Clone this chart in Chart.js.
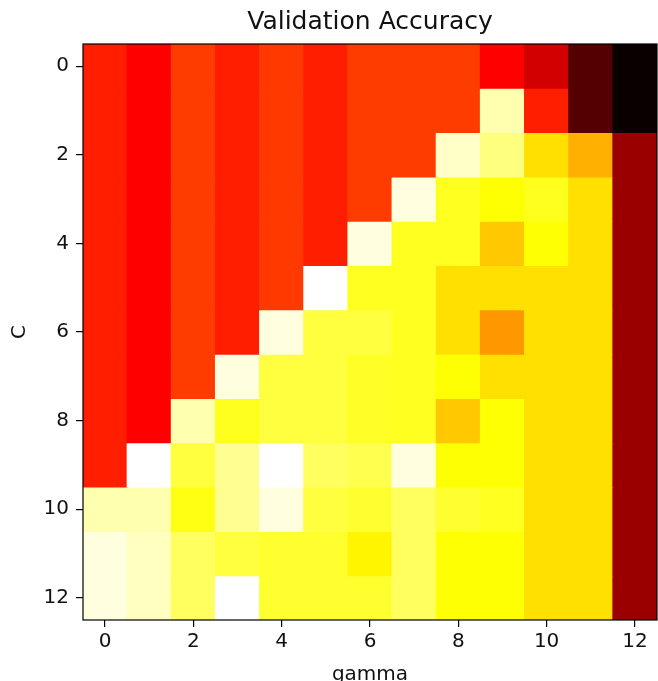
<!DOCTYPE html>
<html>
<head>
<meta charset="utf-8">
<script src="https://cdn.jsdelivr.net/npm/chart.js@4.4.1/dist/chart.umd.min.js"></script>
<style>
  html, body { margin: 0; padding: 0; background: #fff; }
  #wrap { width: 658px; height: 681px; }
</style>
</head>
<body>
<div id="wrap"><canvas id="heatmap" width="658" height="681"></canvas></div>
<script>
const gammaIdx = [0, 1, 2, 3, 4, 5, 6, 7, 8, 9, 10, 11, 12];
const cIdx = [0, 1, 2, 3, 4, 5, 6, 7, 8, 9, 10, 11, 12];
const xTicks = [0, 2, 4, 6, 8, 10, 12];
const yTicks = [0, 2, 4, 6, 8, 10, 12];

// validation accuracy, one row per C, one column per gamma (colormap scale 0..1)
const scores = [
    [0.41, 0.365, 0.455, 0.41, 0.45, 0.41, 0.455, 0.455, 0.455, 0.365, 0.30, 0.11, 0.0],
    [0.41, 0.365, 0.455, 0.41, 0.45, 0.41, 0.455, 0.455, 0.455, 0.92, 0.41, 0.11, 0.0],
    [0.41, 0.365, 0.455, 0.41, 0.45, 0.41, 0.455, 0.455, 0.944, 0.873, 0.70, 0.628, 0.214],
    [0.41, 0.365, 0.455, 0.41, 0.45, 0.41, 0.455, 0.969, 0.778, 0.75, 0.775, 0.70, 0.214],
    [0.41, 0.365, 0.455, 0.41, 0.45, 0.41, 0.969, 0.778, 0.778, 0.664, 0.75, 0.70, 0.214],
    [0.41, 0.365, 0.455, 0.41, 0.45, 1.0, 0.778, 0.778, 0.70, 0.70, 0.70, 0.70, 0.214],
    [0.41, 0.365, 0.455, 0.41, 0.969, 0.81, 0.81, 0.778, 0.70, 0.592, 0.70, 0.70, 0.214],
    [0.41, 0.365, 0.455, 0.969, 0.81, 0.81, 0.785, 0.778, 0.75, 0.70, 0.70, 0.70, 0.214],
    [0.41, 0.365, 0.921, 0.775, 0.81, 0.81, 0.785, 0.778, 0.664, 0.75, 0.70, 0.70, 0.214],
    [0.41, 1.0, 0.81, 0.89, 1.0, 0.842, 0.825, 0.969, 0.75, 0.75, 0.70, 0.70, 0.214],
    [0.921, 0.921, 0.765, 0.89, 0.969, 0.81, 0.794, 0.842, 0.794, 0.778, 0.70, 0.70, 0.214],
    [0.969, 0.937, 0.842, 0.81, 0.794, 0.794, 0.731, 0.842, 0.75, 0.75, 0.70, 0.70, 0.214],
    [0.969, 0.937, 0.842, 1.0, 0.794, 0.794, 0.794, 0.842, 0.75, 0.75, 0.70, 0.70, 0.214]
];

// matplotlib 'hot' colormap
function hot(v) {
    const clamp = t => Math.max(0, Math.min(1, t));
    const r = clamp(0.0416 + 0.9584 * v / 0.365079);
    const g = clamp((v - 0.365079) / (0.746032 - 0.365079));
    const b = clamp((v - 0.746032) / (1 - 0.746032));
    return 'rgb(' + Math.round(r * 255) + ',' + Math.round(g * 255) + ',' + Math.round(b * 255) + ')';
}

const font = { family: 'DejaVu Sans', size: 20 };

// centre the title over the plot and draw the frame round it
const frame = {
    id: 'frame',
    afterLayout(chart) {
        chart.titleBlock.left = chart.chartArea.left;
        chart.titleBlock.right = chart.chartArea.right;
    },
    afterDraw(chart) {
        const { ctx, chartArea: a } = chart;
        ctx.save();
        ctx.strokeStyle = '#000';
        ctx.lineWidth = 1.2;
        ctx.strokeRect(a.left, a.top, a.right - a.left, a.bottom - a.top);
        ctx.restore();
    }
};

function axisOptions(ticks) {
    return {
        type: 'linear',
        min: -0.5,
        max: 12.5,
        offset: false,
        afterBuildTicks: axis => { axis.ticks = ticks.map(v => ({ value: v })); },
        grid: { drawOnChartArea: false, drawTicks: true, tickLength: 7, offset: false, color: '#000', lineWidth: 1.2 },
        border: { display: false },
        ticks: { font: font, color: '#111', maxRotation: 0 }
    };
}

const xAxis = axisOptions(xTicks);
xAxis.afterFit = axis => { axis.height = 61; };
xAxis.ticks.padding = 3;
xAxis.title = { display: true, text: 'gamma', font: { family: 'DejaVu Sans', size: 20, lineHeight: 0.6 }, color: '#111', padding: { top: 0, bottom: 0 } };

const yAxis = axisOptions(yTicks);
yAxis.reverse = true;
yAxis.afterFit = axis => { axis.width = 83; };
yAxis.ticks.padding = 7;
yAxis.title = { display: true, text: 'C', font: font, color: '#111', padding: { top: 8, bottom: 0 } };

new Chart(document.getElementById('heatmap'), {
    type: 'bar',
    data: {
        datasets: cIdx.map((c, j) => ({
            label: 'C ' + c,
            data: gammaIdx.map(g => ({ x: g, y: [c - 0.5, c + 0.5] })),
            backgroundColor: scores[j].map(hot),
            borderWidth: 0,
            inflateAmount: 0.5,
            grouped: false,
            categoryPercentage: 1,
            barPercentage: 1
        }))
    },
    options: {
        responsive: false,
        devicePixelRatio: 1,
        animation: false,
        layout: { padding: { left: 0, right: 1, top: 0, bottom: 0 } },
        plugins: {
            legend: { display: false },
            tooltip: { enabled: false },
            title: {
                display: true,
                text: 'Validation Accuracy',
                color: '#111',
                font: { family: 'DejaVu Sans', size: 25, weight: 'normal', lineHeight: 1.2 },
                padding: { top: 7, bottom: 7 }
            }
        },
        scales: { x: xAxis, y: yAxis }
    },
    plugins: [frame]
});
</script>
</body>
</html>
